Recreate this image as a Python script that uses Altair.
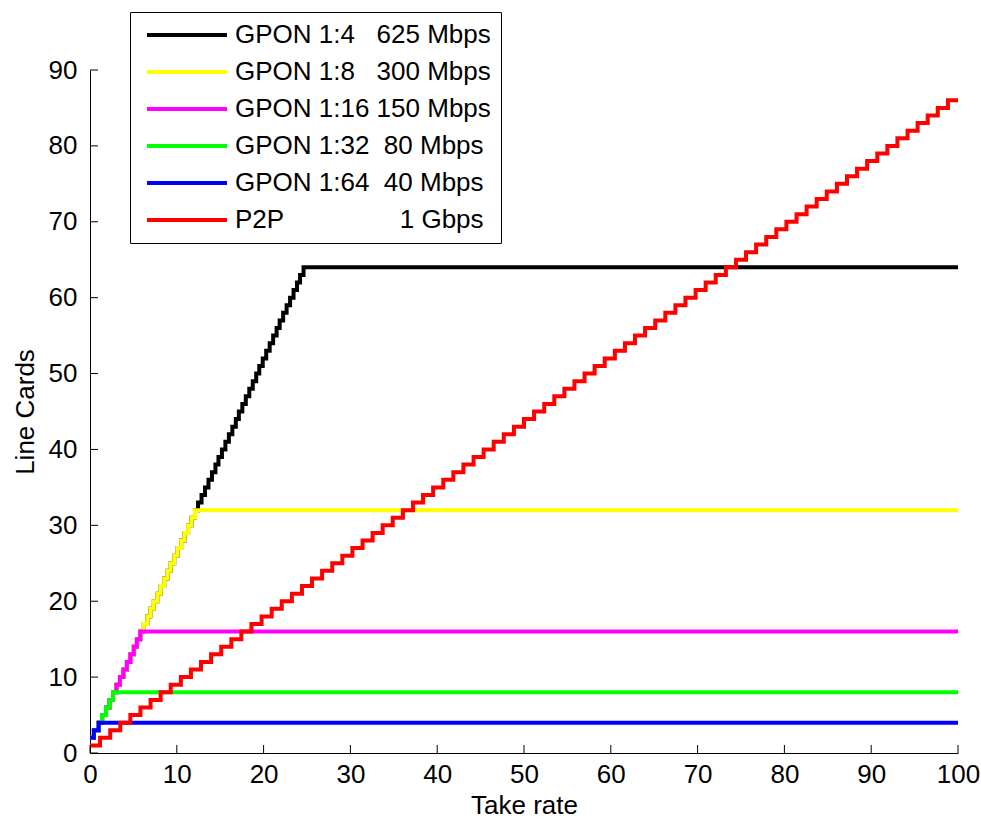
import altair as alt
import pandas as pd

# ---- data ----
series = [
    "GPON 1:4\u00a0\u00a0\u00a0625 Mbps",
    "GPON 1:8\u00a0\u00a0\u00a0300 Mbps",
    "GPON 1:16 150 Mbps",
    "GPON 1:32\u00a0\u00a080 Mbps",
    "GPON 1:64\u00a0\u00a040 Mbps",
    "P2P" + "\u00a0" * 16 + "1 Gbps",
]
colors = ["#000000", "#ffff00", "#ff00ff", "#00ff00", "#0000ff", "#ff0000"]
gpon_caps = [64, 32, 16, 8, 4]

# GPON staircase (shared start of all GPON curves): level and take rate where it begins
gpon_levels = [2, 3, 4, 5, 6, 7, 8, 9, 10, 11, 12, 13, 14, 15, 16, 17, 18, 19, 20,
               21, 22, 23, 24, 25, 26, 27, 28, 29, 30, 31, 32, 33, 34, 35, 36, 37, 38,
               39, 40, 41, 42, 43, 44, 45, 46, 47, 48, 49, 50, 51, 52, 53, 54, 55, 56,
               57, 58, 59, 60, 61, 62, 63, 64]
gpon_x = [0.00, 0.45, 1.00, 1.40, 1.85, 2.25, 2.65, 3.05, 3.45, 3.85, 4.25, 4.65,
          5.05, 5.40, 5.80, 6.20, 6.60, 6.95, 7.35, 7.75, 8.15, 8.55, 8.95, 9.30,
          9.70, 10.10, 10.50, 10.90, 11.30, 11.70, 12.10, 12.45, 12.85, 13.25, 13.65,
          14.05, 14.45, 14.80, 15.20, 15.60, 16.00, 16.40, 16.80, 17.15, 17.55, 17.95,
          18.35, 18.75, 19.15, 19.50, 19.90, 20.30, 20.70, 21.10, 21.50, 21.85, 22.25,
          22.65, 23.05, 23.45, 23.85, 24.20, 24.60]

# P2P staircase
p2p_levels = [1, 2, 3, 4, 5, 6, 7, 8, 9, 10, 11, 12, 13, 14, 15, 16, 17, 18, 19, 20,
              21, 22, 23, 24, 25, 26, 27, 28, 29, 30, 31, 32, 33, 34, 35, 36, 37, 38,
              39, 40, 41, 42, 43, 44, 45, 46, 47, 48, 49, 50, 51, 52, 53, 54, 55, 56,
              57, 58, 59, 60, 61, 62, 63, 64, 65, 66, 67, 68, 69, 70, 71, 72, 73, 74,
              75, 76, 77, 78, 79, 80, 81, 82, 83, 84, 85, 86]
p2p_x = [0.00, 1.16, 2.33, 3.49, 4.65, 5.81, 6.98, 8.14, 9.30, 10.47, 11.63, 12.79,
         13.95, 15.12, 16.28, 17.44, 18.60, 19.77, 20.93, 22.09, 23.26, 24.42, 25.58,
         26.74, 27.91, 29.07, 30.23, 31.40, 32.56, 33.72, 34.88, 36.05, 37.21, 38.37,
         39.53, 40.70, 41.86, 43.02, 44.19, 45.35, 46.51, 47.67, 48.84, 50.00, 51.16,
         52.33, 53.49, 54.65, 55.81, 56.98, 58.14, 59.30, 60.47, 61.63, 62.79, 63.95,
         65.12, 66.28, 67.44, 68.60, 69.77, 70.93, 72.09, 73.26, 74.42, 75.58, 76.74,
         77.91, 79.07, 80.23, 81.40, 82.56, 83.72, 84.88, 86.05, 87.21, 88.37, 89.53,
         90.70, 91.86, 93.02, 94.19, 95.35, 96.51, 97.67, 98.84]

x_ticks = [0, 10, 20, 30, 40, 50, 60, 70, 80, 90, 100]
y_ticks = [0, 10, 20, 30, 40, 50, 60, 70, 80, 90]
x_end = 100

# ---- build table ----
rows = []
for name, cap in zip(series[:5], gpon_caps):
    last = None
    for lv, x in zip(gpon_levels, gpon_x):
        if lv <= cap:
            rows.append({"s": name, "x": x, "y": lv})
            last = lv
    rows.append({"s": name, "x": x_end, "y": last})
for lv, x in zip(p2p_levels, p2p_x):
    rows.append({"s": series[5], "x": x, "y": lv})
rows.append({"s": series[5], "x": x_end, "y": p2p_levels[-1]})
df = pd.DataFrame(rows)

W, H = 868, 683
FONT = "Liberation Sans"
FS = 26

xscale = alt.Scale(domain=[0, 100], nice=False, zero=False)
yscale = alt.Scale(domain=[0, 90], nice=False, zero=False)

xaxis = alt.Axis(values=x_ticks, title="Take rate", grid=False, ticks=False,
                 tickSize=0, labelPadding=8, labelFlush=False, titleX=W / 2, titleY=52,
                 titleBaseline="middle", titleAlign="center")
yaxis = alt.Axis(values=y_ticks, title="Line Cards", grid=False, ticks=False,
                 tickSize=0, labelPadding=13, labelFlush=False, titleX=-65, titleY=H / 2,
                 titleAngle=-90, titleBaseline="middle", titleAlign="center")

legend = alt.Legend(
    title=None, orient="none", legendX=40, legendY=-58,
    symbolType="M-4,0L4,0", symbolSize=400, symbolStrokeWidth=4,
    symbolOffset=34,
    labelFontSize=FS, labelFont=FONT, labelColor="black", labelOffset=35,
    labelLimit=0, strokeColor="black", fillColor="white", padding=10,
    rowPadding=11,
)
color = alt.Color("s:N", scale=alt.Scale(domain=series, range=colors), legend=legend)

layers = []
for i, name in enumerate(series):
    layers.append(
        alt.Chart(df[df["s"] == name])
        .mark_line(interpolate="step-after", strokeWidth=4, clip=True)
        .encode(
            x=alt.X("x:Q", scale=xscale, axis=xaxis),
            y=alt.Y("y:Q", scale=yscale, axis=yaxis),
            color=color,
            order=alt.Order("x:Q"),
        )
    )

xt = (
    alt.Chart(pd.DataFrame({"t": x_ticks}))
    .mark_rule(color="black", strokeWidth=1)
    .encode(x=alt.X("t:Q", scale=xscale, axis=xaxis), y=alt.value(H), y2=alt.value(H - 8))
)
yt = (
    alt.Chart(pd.DataFrame({"t": y_ticks}))
    .mark_rule(color="black", strokeWidth=1)
    .encode(y=alt.Y("t:Q", scale=yscale, axis=yaxis), x=alt.value(0), x2=alt.value(8))
)

chart = (
    alt.layer(*layers, xt, yt)
    .properties(width=W, height=H, autosize=alt.AutoSizeParams(type="none"),
                padding={"left": 90, "top": 70, "right": 23, "bottom": 68},
                background="white")
    .configure_view(stroke=None)
    .configure_axis(domainColor="black", domainWidth=1, labelFont=FONT,
                    labelFontSize=FS, labelColor="black", titleFont=FONT,
                    titleFontSize=FS, titleFontWeight="normal", titleColor="black")
)

chart.save("out.html", embed_options={"renderer": "svg", "actions": False})
